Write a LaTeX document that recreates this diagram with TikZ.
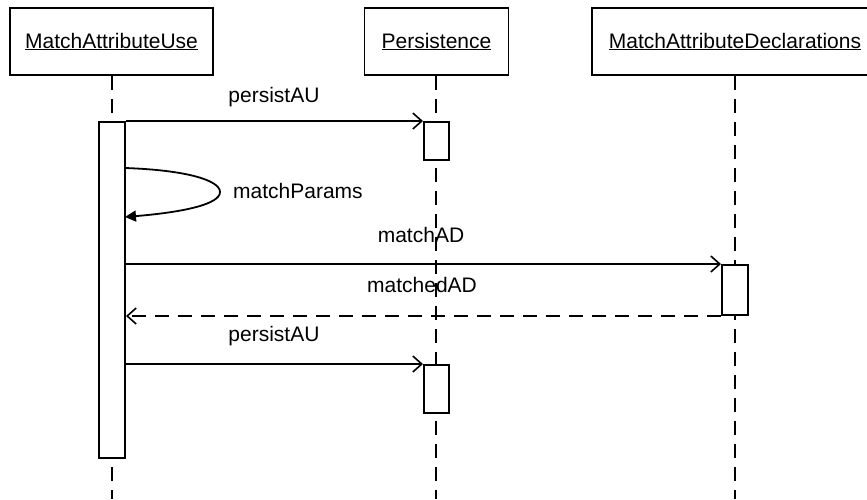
\documentclass[tikz,border=0pt]{standalone}
\usepackage{fontspec}
\setmainfont{Liberation Sans}
\usetikzlibrary{arrows.meta}
\begin{document}
\begin{tikzpicture}[x=1pt,y=-1pt,
  every node/.style={font=\fontsize{21}{25}\selectfont},
  head/.style={draw,line width=1.8pt,fill=white,minimum height=67pt,inner sep=0pt},
  lifeline/.style={line width=2.2pt,dash pattern=on 14pt off 9pt},
  actbar/.style={draw,line width=2pt,fill=white,inner sep=0pt},
  msg/.style={line width=1.8pt,-{Straight Barb[length=9pt,width=16pt,line width=1.6pt]}},
  reply/.style={line width=1.8pt,dash pattern=on 14pt off 9pt,-{Straight Barb[length=9pt,width=16pt,line width=1.6pt]}},
  lbl/.style={inner sep=0pt}]
\useasboundingbox (0,0) rectangle (867,499);
\clip (0,0) rectangle (867,499);

% object heads
\node[head,minimum width=203pt] (use) at (111.5,41.5) {\underline{MatchAttributeUse}};
\node[head,minimum width=144pt] (pers) at (436.5,41.5) {\underline{Persistence}};
\node[head,minimum width=286pt] (decl) at (735,41.5) {\underline{MatchAttributeDeclarations}};

% lifeline ends
\coordinate (useEnd) at (112,499);
\coordinate (persEnd) at (436,499);
\coordinate (declEnd) at (735,499);

% lifelines
\draw[lifeline] (use.south -| useEnd) -- (useEnd);
\draw[lifeline] (pers.south -| persEnd) -- (persEnd);
\draw[lifeline] (decl.south -| declEnd) -- (declEnd);

% activation bars
\node[actbar,minimum width=26pt,minimum height=336pt] (act1) at (112,290) {};
\node[actbar,minimum width=25pt,minimum height=38pt] (act2) at (436.5,141) {};
\node[actbar,minimum width=26pt,minimum height=50pt] (act3) at (735,290) {};
\node[actbar,minimum width=25pt,minimum height=48pt] (act4) at (436.5,389) {};

% messages
\draw[msg] (act1.north east) -- (act2.north west);
\node[lbl] (m1) at (274,97) {persistAU};

\coordinate (selfA) at (125,168);
\coordinate (selfB) at (125,217);
\draw[line width=1.8pt,-{Triangle[length=11pt,width=11pt]}]
  (selfA) .. controls (185,170) and (220,180) .. (220,192)
          .. controls (220,204) and (185,212) .. (selfB);
\node[lbl,anchor=west] (m2) at (233,191) {matchParams};

\coordinate (mAD) at (act1.east |- act3.north);
\draw[msg] (mAD) -- (act3.north west);
\node[lbl] (m3) at (421,235) {matchAD};

\coordinate (mdAD) at (act1.east |- act3.south);
\draw[reply] (act3.south west) -- (mdAD);
\node[lbl] (m4) at (422,285) {matchedAD};

\coordinate (pAU) at (act1.east |- act4.north);
\draw[msg] (pAU) -- (act4.north west);
\node[lbl] (m5) at (274,336) {persistAU};
\end{tikzpicture}
\end{document}
